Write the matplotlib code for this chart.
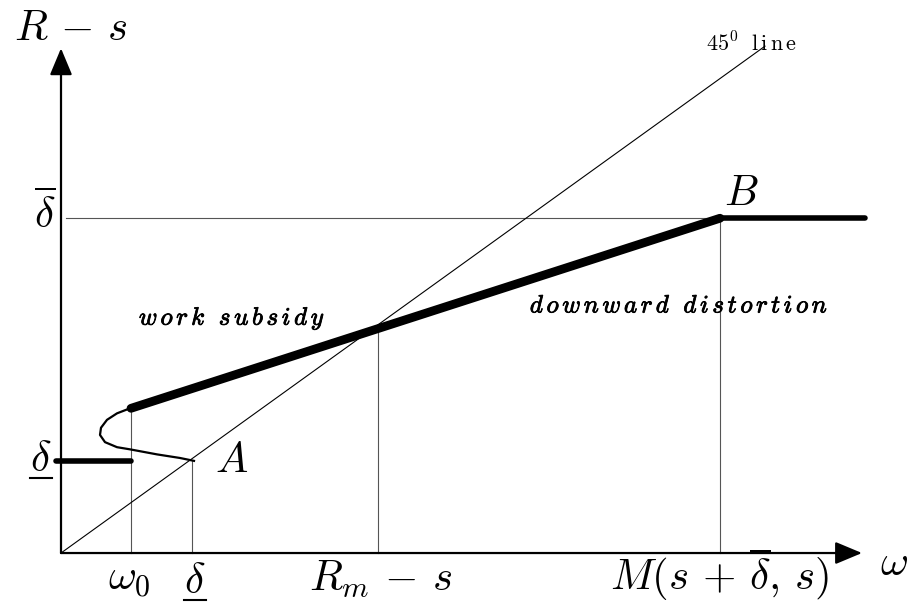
import matplotlib
matplotlib.use("Agg")
import matplotlib.pyplot as plt
import matplotlib.patheffects as pe

plt.rcParams["mathtext.fontset"] = "cm"
plt.rcParams["font.family"] = "serif"

# key levels on the two axes (units: omega along x, R - s along y)
omega_0 = 70
delta_low = 131
r_m = 317
m_point = 659
delta_high = 465

# upper thick schedule: from omega_0 to B, then flat
thick_x = [omega_0, m_point]
thick_y = [201, delta_high]
flat_x = [m_point, 804]
flat_y = [delta_high, delta_high]

# lower flat piece at delta_low
low_x = [-5, omega_0]
low_y = [128, 128]

# backward-bending part from omega_0 down to A
curve_x = [69, 56, 46, 40, 39, 44, 56, 69, 96, 119, 133]
curve_y = [201, 194, 185, 174, 164, 154, 147, 144, 137, 132, 128]

# 45 degree line
diag_x = [0, 704]
diag_y = [0, 704]

x_tip = 801
y_tip = 701

fig = plt.figure(figsize=(9.11, 6.04), dpi=100)
ax = fig.add_axes([0, 0, 1, 1])
ax.set_xlim(-61, 850)
ax.set_ylim(-70.8, 768.1)
ax.axis("off")

guide = dict(color="#555555", lw=0.8)

# guide lines
ax.plot([omega_0, omega_0], [0, thick_y[0]], **guide)
ax.plot([delta_low, delta_low], [0, 128], **guide)
ax.plot([r_m, r_m], [0, r_m], **guide)
ax.plot([m_point, m_point], [0, delta_high], **guide)
ax.plot([5, m_point], [delta_high, delta_high], **guide)

ax.plot(diag_x, diag_y, color="black", lw=0.8)

# schedule
ax.plot(thick_x, thick_y, color="black", lw=6.3, solid_capstyle="round")
ax.plot(flat_x, flat_y, color="black", lw=4, solid_capstyle="round")
ax.plot(low_x, low_y, color="black", lw=4, solid_capstyle="round")
ax.plot(curve_x, curve_y, color="black", lw=1.6)

# axes with arrows
arrow = dict(arrowstyle="-|>,head_length=0.55,head_width=0.23",
             color="black", lw=1.6, mutation_scale=30, shrinkA=0, shrinkB=0)
ax.annotate("", xy=(0, y_tip), xytext=(0, 0), arrowprops=arrow)
ax.annotate("", xy=(x_tip, 0), xytext=(0, 0), arrowprops=arrow)

big = 31
lab = dict(fontsize=big, ha="center", va="baseline")


def under_delta(x, y):
    # delta with an underline (mathtext has no \underline)
    ax.text(x, y, r"$\delta$", **lab)
    ax.plot([x - 11, x + 11], [y - 10, y - 10], color="black", lw=1.5)


ax.text(10, 712, r"$R\,-\,s$", **lab)
ax.text(833, -31, r"$\omega$", **lab)
ax.text(-16, 451, r"$\overline{\delta}$", **lab)
under_delta(-20, 114)

tick_y = -52
ax.text(omega_0 - 2, tick_y, r"$\omega_0$", **lab)
under_delta(delta_low + 3, tick_y - 3)
ax.text(r_m + 3, tick_y, r"$R_m\,-\,s$", **lab)
ax.text(m_point, tick_y, r"$M(s\,+\,\overline{\delta},\,s)$", **lab)

ax.text(171, 112, r"$A$", **lab)
ax.text(680, 483, r"$B$", **lab)

bold = [pe.withStroke(linewidth=0.6, foreground="black")]
ax.text(691, 706, r"$45^0\ \ \mathrm{l\,i\,n\,e}$", fontsize=16, ha="center", va="center")
ax.text(171, 326, r"$\mathit{w\,o\,r\,k\ \ s\,u\,b\,s\,i\,d\,y}$", fontsize=18,
        ha="center", va="center", path_effects=bold)
ax.text(618, 343, r"$\mathit{d\,o\,w\,n\,w\,a\,r\,d\ \ d\,i\,s\,t\,o\,r\,t\,i\,o\,n}$",
        fontsize=18, ha="center", va="center", path_effects=bold)

fig.savefig("out.png", dpi=100)
